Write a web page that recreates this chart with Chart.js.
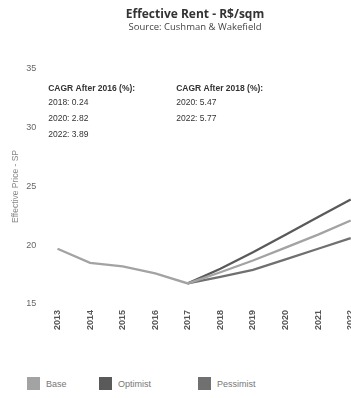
<!DOCTYPE html>
<html>
<head>
<meta charset="utf-8">
<script src="https://cdn.jsdelivr.net/npm/chart.js@4"></script>
<style>
    body { margin: 0; background: #fff; overflow: hidden; width: 351px; height: 398px; }
    #wrap { position: relative; width: 390px; height: 356px; }
    #head { position: absolute; left: 0; top: 6px; width: 390px; text-align: center; font-family: "Open Sans", sans-serif; color: #333; }
    #head .t { font-size: 12px; font-weight: bold; line-height: 15px; }
    #head .s { font-size: 9.5px; line-height: 12px; color: #444; }
    #legend { position: absolute; left: 0; top: 377px; display: flex; font-family: "Liberation Sans", Arial, sans-serif; font-size: 9px; color: #777; }
    #legend .item { display: flex; align-items: center; width: 99px; }
    #legend .box { width: 13px; height: 13px; margin-left: 27px; margin-right: 6px; }
    #legend .item:not(:first-child) .box { margin-left: 0; }
</style>
</head>
<body>
<div id="wrap">
    <canvas id="chart"></canvas>
    <div id="head"><div class="t">Effective Rent - R$/sqm</div><div class="s">Source: Cushman &amp; Wakefield</div></div>
</div>
<div id="legend"></div>
<script>
    // 데이터
    const years = ['2013', '2014', '2015', '2016', '2017', '2018', '2019', '2020', '2021', '2022'];
    const baseValues = [19.7, 18.5, 18.2, 17.6, 16.75, 17.7, 18.7, 19.8, 20.9, 22.1];
    const optimistValues = [null, null, null, null, 16.75, 18.0, 19.4, 20.9, 22.4, 23.9];
    const pessimistValues = [null, null, null, null, 16.75, 17.3, 17.9, 18.8, 19.7, 20.6];
    const yTicks = [15, 20, 25, 30, 35];

    const cagr2016 = ['2018: 0.24', '2020: 2.82', '2022: 3.89'];
    const cagr2018 = ['2020: 5.47', '2022: 5.77'];

    const series = [
        { label: 'Base', data: baseValues, color: '#a3a3a3' },
        { label: 'Optimist', data: optimistValues, color: '#5a5a5a' },
        { label: 'Pessimist', data: pessimistValues, color: '#707070' }
    ];

    // 주석 텍스트 그리기
    const cagrNotes = {
        id: 'cagrNotes',
        afterDraw(chart) {
            const { ctx, chartArea } = chart;
            ctx.save();
            ctx.fillStyle = '#333';
            ctx.textBaseline = 'middle';
            ctx.font = 'bold 8.5px "Liberation Sans", Arial, sans-serif';
            const x1 = chartArea.left + 7;
            const x2 = chartArea.left + 135;
            const rows = [chartArea.top + 20, chartArea.top + 34, chartArea.top + 50, chartArea.top + 66];
            ctx.fillText('CAGR After 2016 (%):', x1, rows[0]);
            ctx.fillText('CAGR After 2018 (%):', x2, rows[0]);
            ctx.font = '8.5px "Liberation Sans", Arial, sans-serif';
            cagr2016.forEach((t, i) => ctx.fillText(t, x1, rows[i + 1]));
            cagr2018.forEach((t, i) => ctx.fillText(t, x2, rows[i + 1]));
            ctx.restore();
        }
    };

    const canvas = document.getElementById('chart');
    canvas.width = 390;
    canvas.height = 356;

    const chart = new Chart(canvas.getContext('2d'), {
        type: 'line',
        data: {
            labels: years,
            datasets: series.map(s => ({
                label: s.label,
                data: s.data,
                borderColor: s.color,
                backgroundColor: s.color,
                borderWidth: 2.3,
                pointRadius: 0,
                tension: 0,
                fill: false
            }))
        },
        options: {
            responsive: false,
            animation: false,
            layout: { padding: { left: 11, right: 23, top: 69, bottom: 20 } },
            plugins: {
                legend: { display: false },
                tooltip: { enabled: false }
            },
            scales: {
                x: {
                    offset: true,
                    grid: { display: false, drawTicks: false },
                    border: { display: false },
                    ticks: {
                        color: '#555',
                        maxRotation: 90,
                        minRotation: 90,
                        padding: 6,
                        font: { family: '"Liberation Sans", Arial, sans-serif', size: 9, weight: 'bold' }
                    }
                },
                y: {
                    min: 15,
                    max: 35,
                    afterBuildTicks: axis => { axis.ticks = yTicks.map(v => ({ value: v })); },
                    grid: { display: false, drawTicks: false },
                    border: { display: false },
                    ticks: {
                        color: '#666',
                        padding: 5,
                        font: { family: '"Liberation Sans", Arial, sans-serif', size: 9 }
                    },
                    title: {
                        display: true,
                        text: 'Effective Price - SP',
                        color: '#888',
                        padding: { top: 0, bottom: 0 },
                        font: { family: '"Liberation Sans", Arial, sans-serif', size: 8.5 }
                    }
                }
            }
        },
        plugins: [cagrNotes]
    });

    // 범례
    const legend = document.getElementById('legend');
    series.forEach(s => {
        const item = document.createElement('div');
        item.className = 'item';
        item.innerHTML = `<span class="box" style="background:${s.color}"></span><span>${s.label}</span>`;
        legend.appendChild(item);
    });
</script>
</body>
</html>
